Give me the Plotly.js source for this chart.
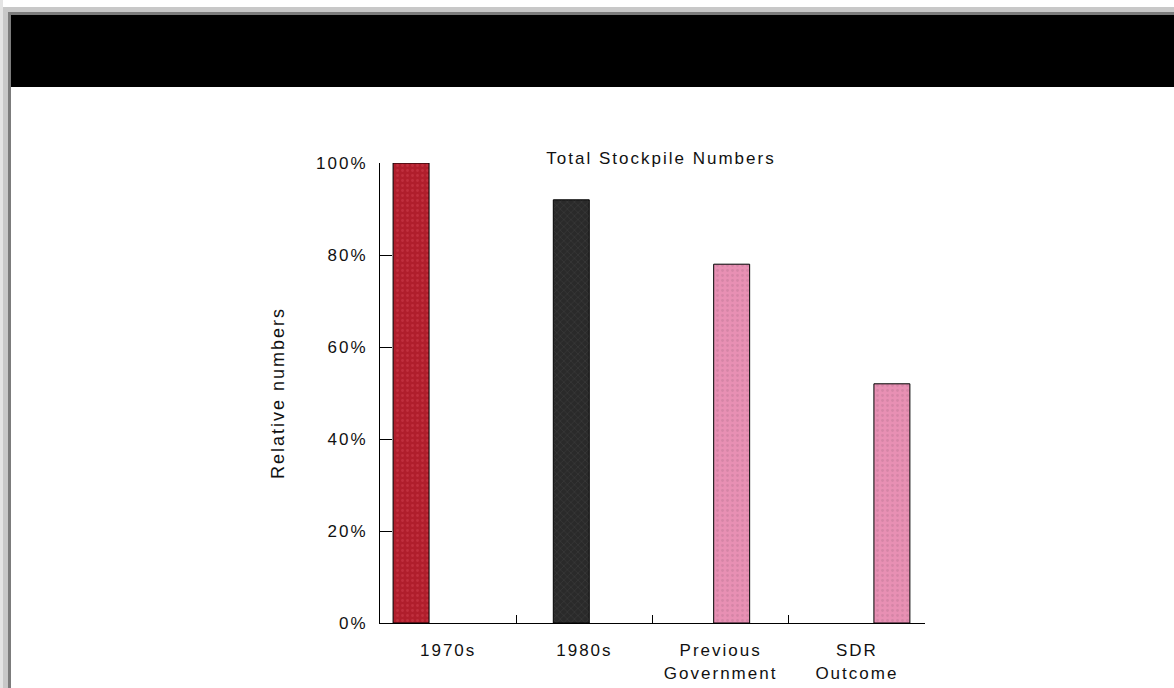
<!DOCTYPE html>
<html>
<head>
<meta charset="utf-8">
<script src="https://cdn.plot.ly/plotly-3.0.1.min.js"></script>
<style>
  html, body { margin: 0; padding: 0; background: #ffffff; }
  #wrap { position: relative; width: 1174px; height: 688px; overflow: hidden; background: #fff; }
  #chart { position: absolute; left: 0; top: 0; width: 1174px; height: 688px; }
  .frame { position: absolute; }
  #chart text { letter-spacing: 2px; }
</style>
</head>
<body>
<div id="wrap">
  <div id="chart"></div>
  <div class="frame" style="left:0;top:0;width:3px;height:688px;background:#e4e4e4"></div>
  <div class="frame" style="left:3px;top:7px;width:5px;height:681px;background:#c8c8c8"></div>
  <div class="frame" style="left:3px;top:7px;width:1171px;height:5px;background:#c8c8c8"></div>
  <div class="frame" style="left:8px;top:12px;width:1166px;height:3px;background:#7c7c7c"></div>
  <div class="frame" style="left:8px;top:12px;width:3px;height:676px;background:#7c7c7c"></div>
  <div class="frame" style="left:11px;top:15px;width:1163px;height:72px;background:#000"></div>
</div>
<script>
// ---- data ----
const categories = ['1970s', '1980s', 'Previous<br>Government', 'SDR<br>Outcome'];
const relativeNumbers = [100, 92, 78, 52];
const yTickValues = [0, 20, 40, 60, 80, 100];
const chartTitle = 'Total Stockpile Numbers';
const yAxisTitle = 'Relative numbers';

// ---- styles ----
const barBg = ['#b01e2c', '#2a2a2a', '#e890b4', '#e890b4'];
const barFg = ['#d04050', '#4a4a4a', '#c27a98', '#c27a98'];
const barShape = ['.', 'x', '.', '.'];
const barOffset = [-0.404, -0.228, -0.051, 0.125];
const fontFamily = 'Arial, "Liberation Sans", sans-serif';

const traces = categories.map((c, i) => ({
  type: 'bar',
  x: [c],
  y: [relativeNumbers[i]],
  width: 0.264,
  offset: barOffset[i],
  marker: {
    color: barBg[i],
    line: { color: '#000', width: 1 },
    pattern: {
      shape: barShape[i],
      fgcolor: barFg[i],
      size: 5,
      solidity: 0.25,
      fillmode: 'overlay'
    }
  },
  hoverinfo: 'x+y',
  showlegend: false
}));

const layout = {
  width: 1174,
  height: 688,
  margin: { l: 380, r: 249, t: 163, b: 65, pad: 0 },
  paper_bgcolor: '#ffffff',
  plot_bgcolor: '#ffffff',
  font: { family: fontFamily, size: 18, color: '#111' },
  title: {
    text: chartTitle,
    font: { family: fontFamily, size: 17, color: '#111' },
    xref: 'container', yref: 'container',
    x: 661 / 1174, y: 1 - 158 / 688,
    xanchor: 'center', yanchor: 'middle'
  },
  xaxis: {
    type: 'category',
    range: [-0.5, 3.5],
    tickson: 'boundaries',
    ticks: 'inside',
    ticklen: 8,
    tickcolor: '#000',
    showline: true,
    linecolor: '#000',
    linewidth: 1,
    showgrid: false,
    zeroline: false,
    ticklabelstandoff: 12,
    tickfont: { family: fontFamily, size: 17, color: '#111' },
    fixedrange: true
  },
  yaxis: {
    range: [0, 100],
    tickvals: yTickValues,
    ticktext: yTickValues.map(v => v + '%'),
    ticks: 'inside',
    ticklen: 12,
    tickcolor: '#000',
    showline: true,
    linecolor: '#000',
    linewidth: 1,
    showgrid: false,
    zeroline: false,
    ticklabelstandoff: 8,
    tickfont: { family: fontFamily, size: 17, color: '#111' },
    title: {
      text: yAxisTitle,
      font: { family: fontFamily, size: 18, color: '#111' },
      standoff: 34
    },
    fixedrange: true
  },
  barmode: 'overlay',
  bargap: 0
};

Plotly.newPlot('chart', traces, layout, { displayModeBar: false, staticPlot: true });
</script>
</body>
</html>
